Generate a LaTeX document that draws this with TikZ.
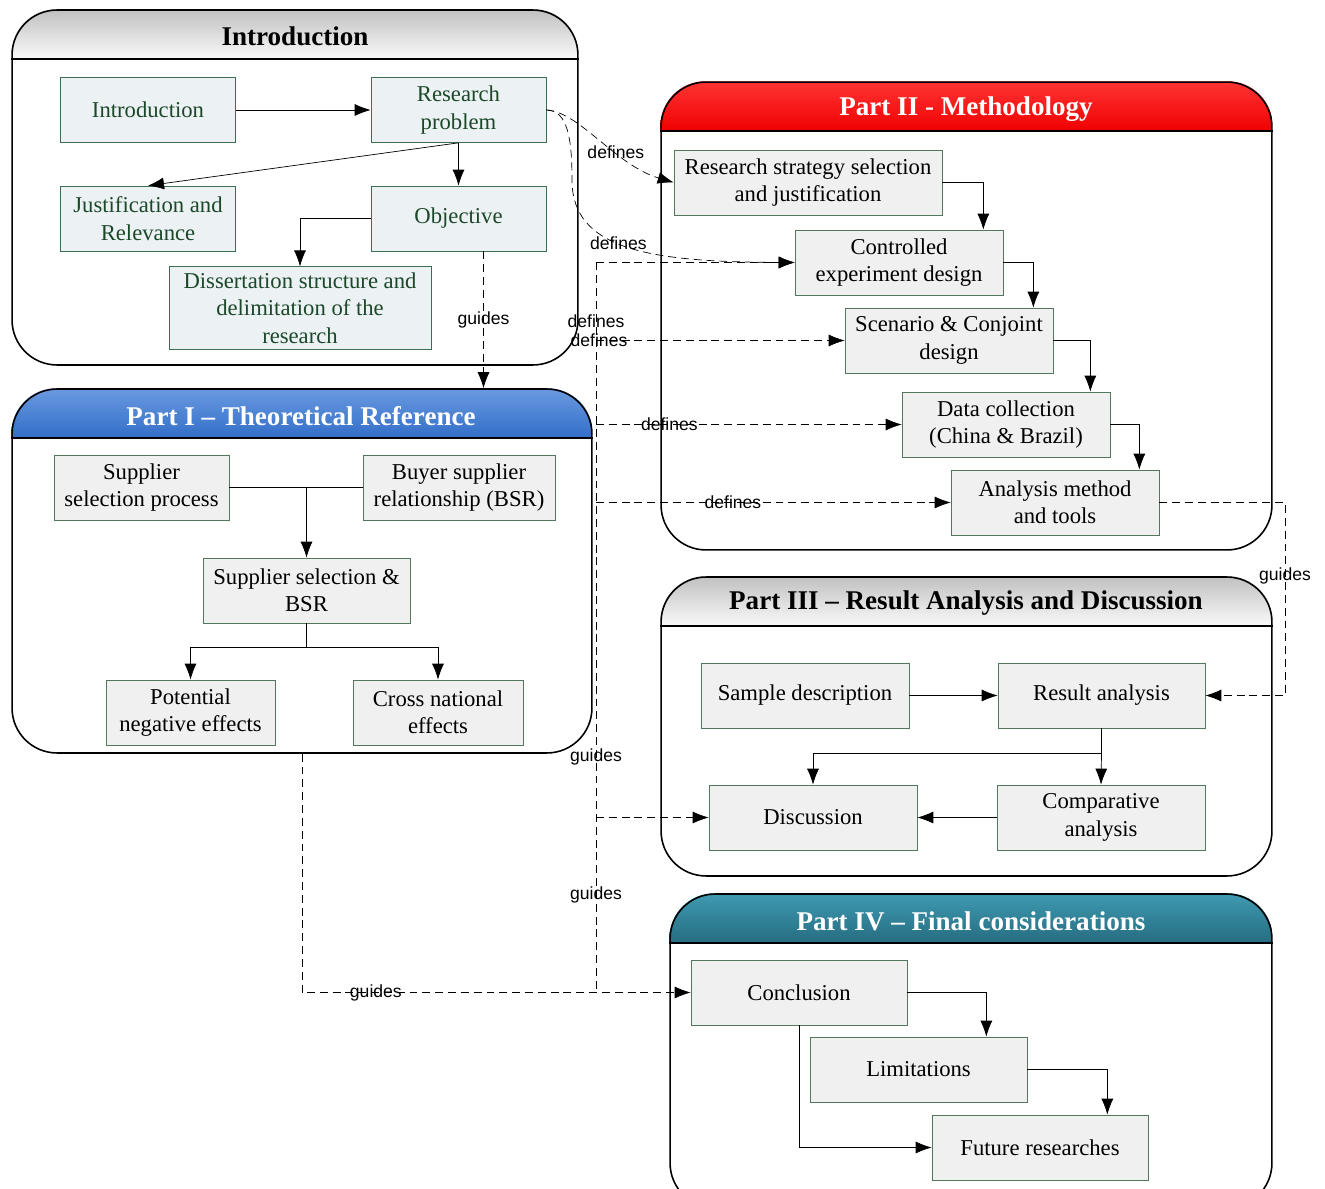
\documentclass[tikz,border=0pt]{standalone}
\usepackage{fontspec}
\setmainfont{Liberation Serif}
\newfontfamily\lblfamily{Liberation Sans}
\usetikzlibrary{arrows.meta,backgrounds}

\definecolor{introfill}{RGB}{236,241,243}
\definecolor{introedge}{RGB}{62,110,80}
\definecolor{introtext}{RGB}{28,72,42}
\definecolor{boxfill}{RGB}{240,240,240}
\definecolor{boxedge}{RGB}{84,118,94}
\definecolor{greytop}{RGB}{192,192,192}
\definecolor{greybot}{RGB}{250,250,250}
\definecolor{bluetop}{RGB}{106,154,224}
\definecolor{bluebot}{RGB}{50,110,200}
\definecolor{redtop}{RGB}{255,52,52}
\definecolor{redbot}{RGB}{240,0,0}
\definecolor{tealtop}{RGB}{62,154,178}
\definecolor{tealbot}{RGB}{38,108,128}

\newcommand\boxtxt{\fontsize{12.9pt}{15.6pt}\selectfont}
\newcommand\titletxt{\fontsize{15.4pt}{18pt}\selectfont\bfseries}
\newcommand\lbltxt{\lblfamily\fontsize{10pt}{12pt}\selectfont}

\tikzset{
    container/.style={draw, line width=0.9pt, rounded corners=0.9cm, inner sep=0pt},
    introbox/.style={draw=introedge, fill=introfill, text=introtext, minimum width=3.5cm,
        minimum height=1.3cm, align=center, font=\boxtxt},
    stepbox/.style={draw=boxedge, fill=boxfill, minimum height=1.3cm, align=center, font=\boxtxt},
    arr/.style={-{Latex[length=3.2mm,width=2.4mm]}},
    guide/.style={arr, dash pattern=on 4.5pt off 2.8pt},
    lbl/.style={font=\lbltxt, inner sep=1pt},
}

\begin{document}
\begin{tikzpicture}[x=0.02cm, y=-0.02cm]
        \useasboundingbox (0,0) rectangle (1325,1189);

        \node[container, minimum width=11.32cm, minimum height=7.1cm] (p0) at (295,187.5) {};
        \node[container, minimum width=11.6cm, minimum height=7.28cm] (p1) at (302,571) {};
        \node[container, minimum width=12.22cm, minimum height=9.36cm] (p2) at (966.5,316) {};
        \node[container, minimum width=12.22cm, minimum height=5.98cm] (p3) at (966.5,726.5) {};
        \node[container, minimum width=12.04cm, minimum height=6.28cm] (p4) at (971,1051) {};

        \begin{scope}[on background layer]
            \foreach \p/\ct/\cb in {p0/greytop/greybot, p1/bluetop/bluebot, p2/redtop/redbot,
                                    p3/greytop/greybot, p4/tealtop/tealbot} {
                \begin{scope}
                    \clip[rounded corners=0.9cm] (\p.north west) rectangle (\p.south east);
                    \shade[top color=\ct, bottom color=\cb] (\p.north west) rectangle ([yshift=-1cm]\p.north east);
                \end{scope}
            }
        \end{scope}
        \foreach \p in {p0,p1,p2,p3,p4}
            \draw[line width=0.9pt] ([yshift=-1cm]\p.north west) -- ([yshift=-1cm]\p.north east);

        \node[font=\titletxt] (p0title) at (295,36) {Introduction};
        \node[font=\titletxt, text=white] (p1title) at (301,416) {Part I – Theoretical Reference};
        \node[font=\titletxt, text=white] (p2title) at (966,109) {Part II - Methodology};
        \node[font=\titletxt] (p3title) at (966,603) {Part III – Result Analysis and Discussion};
        \node[font=\titletxt, text=white] (p4title) at (971,921) {Part IV – Final considerations};

        \node[introbox] (intro) at (148,110) {Introduction};
        \node[introbox] (rp) at (458.5,110) {Research\\problem};
        \node[introbox] (just) at (148,218.5) {Justification and\\Relevance};
        \node[introbox] (obj) at (458.5,218.5) {Objective};
        \node[introbox, minimum width=5.24cm, minimum height=1.6cm] (diss) at (300,308) {Dissertation structure and\\delimitation of the\\research};

        \node[stepbox, minimum width=3.5cm] (ssp) at (141.5,487.5) {Supplier\\selection process};
        \node[stepbox, minimum width=3.84cm] (bsr) at (459,487.5) {Buyer supplier\\relationship (BSR)};
        \node[stepbox, minimum width=4.14cm] (ssbsr) at (306.5,590.5) {Supplier selection \&\\BSR};
        \node[stepbox, minimum width=3.38cm] (pne) at (190.5,712.5) {Potential\\negative effects};
        \node[stepbox, minimum width=3.4cm] (cne) at (438,712.5) {Cross national\\effects};

        \node[stepbox, minimum width=5.36cm] (rss) at (808,182.5) {Research strategy selection\\and justification};
        \node[stepbox, minimum width=4.16cm] (ced) at (899,262.5) {Controlled\\experiment design};
        \node[stepbox, minimum width=4.16cm] (scd) at (949,340.5) {Scenario \& Conjoint\\design};
        \node[stepbox, minimum width=4.16cm] (dc) at (1006,424.5) {Data collection\\(China \& Brazil)};
        \node[stepbox, minimum width=4.16cm] (am) at (1055,502.5) {Analysis method\\and tools};

        \node[stepbox, minimum width=4.16cm] (sd) at (805,695.5) {Sample description};
        \node[stepbox, minimum width=4.14cm] (ra) at (1101.5,695.5) {Result analysis};
        \node[stepbox, minimum width=4.16cm] (disc) at (813,817.5) {Discussion};
        \node[stepbox, minimum width=4.16cm] (ca) at (1101,817.5) {Comparative\\analysis};

        \node[stepbox, minimum width=4.32cm] (concl) at (799,992.5) {Conclusion};
        \node[stepbox, minimum width=4.34cm] (lim) at (918.5,1069.5) {Limitations};
        \node[stepbox, minimum width=4.32cm] (fr) at (1040,1147.5) {Future researches};

        \draw[arr] (intro) -- (rp);
        \draw[arr] (rp.south) -- (just.north);
        \draw[arr] (rp) -- (obj);
        \draw[arr] (obj.west) -| (diss.north);

        \draw (ssp.east) -- (bsr.west);
        \draw[arr] (ssbsr.north |- ssp.east) -- (ssbsr.north);
        \draw (ssbsr.south) -- ++(0,24) coordinate (split);
        \draw[arr] (split) -| (pne.north);
        \draw[arr] (split) -| (cne.north);

        \draw[arr] (rss.east) -| ([xshift=-0.4cm]ced.north east);
        \draw[arr] (ced.east) -| ([xshift=-0.4cm]scd.north east);
        \draw[arr] (scd.east) -| ([xshift=-0.4cm]dc.north east);
        \draw[arr] (dc.east) -| ([xshift=-0.4cm]am.north east);

        \draw[arr] (sd) -- (ra);
        \draw (ra.south) -- ++(0,25) coordinate (rasplit);
        \draw[arr] (rasplit) -| (disc.north);
        \draw[arr] (rasplit) -- (ca.north);
        \draw[arr] (ca) -- (disc);

        \draw[arr] (concl.east) -| ([xshift=-0.82cm]lim.north east);
        \draw[arr] (lim.east) -| ([xshift=-0.82cm]fr.north east);
        \draw[arr] (concl.south) |- (fr.west);

        \draw[guide] ([xshift=0.5cm]obj.south) -- node[lbl]{guides} ([xshift=0.5cm]obj.south |- p1.north);
        \draw[guide] (rp.east) .. controls (580,112) and (615,165) .. node[lbl, pos=0.62]{defines} (rss.west);
        \draw[guide] (rp.east) .. controls (568,110) and (572,140) .. (572,180)
            .. controls (572,250) and (650,262) .. node[lbl, pos=0.45]{defines} (ced.west);

        \coordinate (trunktop) at (596,262.5);
        \coordinate (trunkbot) at (596,992.5);
        \draw[guide] (trunktop) -- (ced.west);
        \draw[guide, -] (trunktop) -- node[lbl, pos=0.081]{defines} node[lbl, pos=0.677]{guides}
            node[lbl, pos=0.867]{guides} (trunkbot);
        \draw[guide] (trunktop |- scd.west) -- node[lbl, pos=0.012]{defines} (scd.west);
        \draw[guide] (trunktop |- dc.west) -- node[lbl, pos=0.24]{defines} (dc.west);
        \draw[guide] (trunktop |- am.west) -- node[lbl, pos=0.386]{defines} (am.west);
        \draw[guide] (trunktop |- disc.west) -- (disc.west);
        \draw[guide] (p1.south) |- node[lbl, pos=0.595]{guides} (concl.west);
        \draw[guide] (am.east) -- (1285,502.5) |- node[lbl, pos=0.19]{guides} (ra.east);
\end{tikzpicture}
\end{document}
